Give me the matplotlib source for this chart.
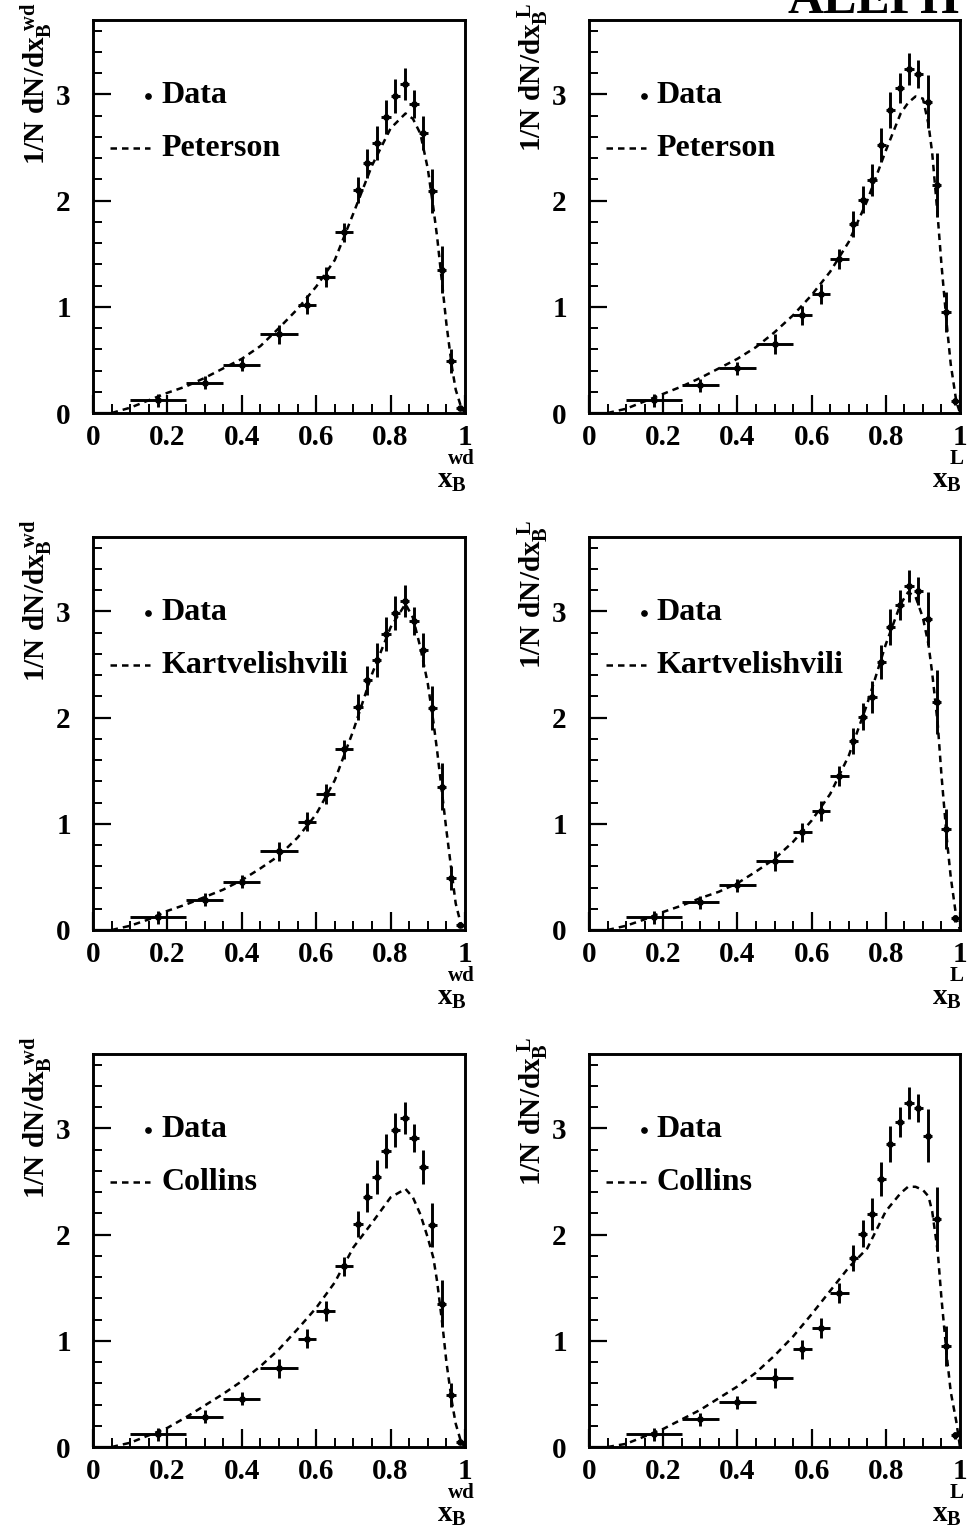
import numpy as np
import matplotlib
matplotlib.use('Agg')
import matplotlib.pyplot as plt
from matplotlib.ticker import MultipleLocator

plt.rcParams['font.family'] = ['Liberation Serif', 'DejaVu Serif']
plt.rcParams['font.weight'] = 'bold'
plt.rcParams['mathtext.fontset'] = 'custom'
plt.rcParams['mathtext.rm'] = 'Liberation Serif:bold'
plt.rcParams['mathtext.it'] = 'Liberation Serif:bold'
plt.rcParams['mathtext.bf'] = 'Liberation Serif:bold'

# data points (bin centres and half widths)
x_centers = [0.175, 0.3, 0.4, 0.5, 0.575, 0.625, 0.675, 0.7125, 0.7375, 0.7625,
             0.7875, 0.8125, 0.8375, 0.8625, 0.8875, 0.9125, 0.9375, 0.9625, 0.9875]
x_halfw = [0.075, 0.05, 0.05, 0.05, 0.025, 0.025, 0.025, 0.0125, 0.0125, 0.0125,
           0.0125, 0.0125, 0.0125, 0.0125, 0.0125, 0.0125, 0.0125, 0.0125, 0.0125]

wd_y = [0.12, 0.285, 0.455, 0.743, 1.02, 1.28, 1.70, 2.10, 2.35, 2.54,
        2.79, 2.98, 3.10, 2.91, 2.64, 2.09, 1.35, 0.49, 0.044]
wd_err = [0.06, 0.06, 0.06, 0.09, 0.09, 0.09, 0.09, 0.12, 0.14, 0.16,
          0.16, 0.16, 0.15, 0.13, 0.16, 0.21, 0.22, 0.11, 0.02]

l_y = [0.12, 0.26, 0.42, 0.65, 0.92, 1.12, 1.45, 1.78, 2.01, 2.19,
       2.52, 2.85, 3.06, 3.24, 3.19, 2.93, 2.15, 0.95, 0.11]
l_err = [0.06, 0.06, 0.06, 0.09, 0.09, 0.09, 0.09, 0.12, 0.13, 0.15,
         0.16, 0.17, 0.14, 0.15, 0.13, 0.25, 0.30, 0.19, 0.03]

# model curves
curve_x = [0.05, 0.10, 0.15, 0.20, 0.25, 0.30, 0.35, 0.40, 0.45, 0.50, 0.55, 0.60,
           0.65, 0.70, 0.75, 0.80, 0.84, 0.86, 0.88, 0.90, 0.915, 0.925, 0.94,
           0.95, 0.965, 0.975, 0.99, 1.0]

peterson_wd = [0.0, 0.05, 0.12, 0.19, 0.25, 0.33, 0.42, 0.51, 0.63, 0.80, 0.98, 1.19,
               1.44, 1.88, 2.33, 2.68, 2.82, 2.77, 2.63, 2.30, 1.93, 1.66, 1.17,
               0.84, 0.43, 0.22, 0.05, 0.0]
peterson_l = [0.0, 0.04, 0.11, 0.18, 0.25, 0.33, 0.42, 0.51, 0.62, 0.76, 0.92, 1.11,
              1.33, 1.61, 2.00, 2.47, 2.82, 2.92, 2.98, 2.96, 2.72, 2.45, 1.85,
              1.40, 0.81, 0.46, 0.11, 0.0]
kart_wd = [0.0, 0.04, 0.10, 0.18, 0.24, 0.31, 0.38, 0.47, 0.58, 0.70, 0.87, 1.09,
           1.41, 1.88, 2.41, 2.85, 3.07, 2.94, 2.66, 2.32, 1.96, 1.69, 1.24,
           0.94, 0.52, 0.25, 0.04, 0.0]
kart_l = [0.0, 0.04, 0.10, 0.17, 0.23, 0.30, 0.36, 0.44, 0.55, 0.67, 0.83, 1.03,
          1.28, 1.64, 2.13, 2.69, 3.07, 3.18, 3.14, 2.94, 2.69, 2.42, 1.94,
          1.46, 0.84, 0.50, 0.12, 0.0]
collins_wd = [0.0, 0.04, 0.11, 0.18, 0.28, 0.39, 0.50, 0.62, 0.76, 0.92, 1.11, 1.31,
              1.55, 1.88, 2.11, 2.35, 2.43, 2.35, 2.19, 1.97, 1.78, 1.56, 1.13,
              0.80, 0.42, 0.22, 0.04, 0.0]
collins_l = [0.0, 0.03, 0.10, 0.17, 0.26, 0.35, 0.46, 0.57, 0.70, 0.86, 1.04, 1.25,
             1.47, 1.69, 1.87, 2.22, 2.39, 2.45, 2.45, 2.42, 2.36, 2.22, 1.84,
             1.40, 0.84, 0.52, 0.24, 0.0]

model_names = ['Peterson', 'Kartvelishvili', 'Collins']
models_wd = [peterson_wd, kart_wd, collins_wd]
models_l = [peterson_l, kart_l, collins_l]

W, H = 967, 1528
fig = plt.figure(figsize=(W / 100, H / 100), dpi=100)

col_left = [93, 589]
col_width = [372, 371]
row_top = [20, 537, 1054]
ax_h = 393

dash = (0, (2.6, 2.0))


def draw_panel(ax, ydata, yerr, model, name, tag):
    ax.errorbar(x_centers, ydata, yerr=yerr, xerr=x_halfw, fmt='o', ms=3.8,
                color='k', ecolor='k', elinewidth=2.1, capsize=0)
    ax.plot(curve_x, model, color='k', lw=1.8, ls=dash)
    ax.set_xlim(0, 1)
    ax.set_ylim(0, 3.7)
    ax.xaxis.set_minor_locator(MultipleLocator(0.05))
    ax.yaxis.set_minor_locator(MultipleLocator(0.2))
    ax.set_xticks([0, 0.2, 0.4, 0.6, 0.8, 1.0])
    ax.set_xticklabels(['0', '0.2', '0.4', '0.6', '0.8', '1'])
    ax.set_yticks([0, 1, 2, 3])
    ax.set_yticklabels(['0', '1', '2', '3'])
    ax.tick_params(which='major', direction='in', length=13, width=1.6,
                   labelsize=21, top=False, right=False)
    ax.tick_params(which='minor', direction='in', length=6.5, width=1.4,
                   top=False, right=False)
    ax.tick_params(axis='x', which='major', pad=8)
    ax.tick_params(axis='y', which='major', pad=16)
    for sp in ax.spines.values():
        sp.set_linewidth(2.1)
    # legend drawn by hand
    ax.plot([0.148], [0.807], 'o', ms=3.8, color='k', transform=ax.transAxes)
    ax.text(0.183, 0.807, 'Data', transform=ax.transAxes, fontsize=23,
            fontweight='bold', va='center', ha='left')
    ax.plot([0.046, 0.153], [0.674, 0.674], color='k', lw=1.8, ls=dash,
            transform=ax.transAxes)
    ax.text(0.183, 0.674, name, transform=ax.transAxes, fontsize=23,
            fontweight='bold', va='center', ha='left')
    # axis titles
    ax.text(-0.15, 1.045, r'$1/N\ dN/dx_{B}^{\ %s}$' % tag, transform=ax.transAxes,
            rotation=90, ha='center', va='top', fontsize=21)
    ax.text(0.965, -0.138, r'$x_{B}$', transform=ax.transAxes,
            ha='center', va='top', fontsize=21)
    ax.text(0.99, -0.092, tag, transform=ax.transAxes,
            ha='center', va='top', fontsize=15)


for r in range(3):
    for c in range(2):
        left = col_left[c] / W
        bottom = 1 - (row_top[r] + ax_h) / H
        ax = fig.add_axes([left, bottom, col_width[c] / W, ax_h / H])
        if c == 0:
            draw_panel(ax, wd_y, wd_err, models_wd[r], model_names[r], 'wd')
        else:
            draw_panel(ax, l_y, l_err, models_l[r], model_names[r], 'L')

fig.text(787 / W, 1 - 13 / H, 'ALEPH', fontsize=36, fontweight='bold',
         ha='left', va='baseline')

fig.savefig('out.png', dpi=100)
